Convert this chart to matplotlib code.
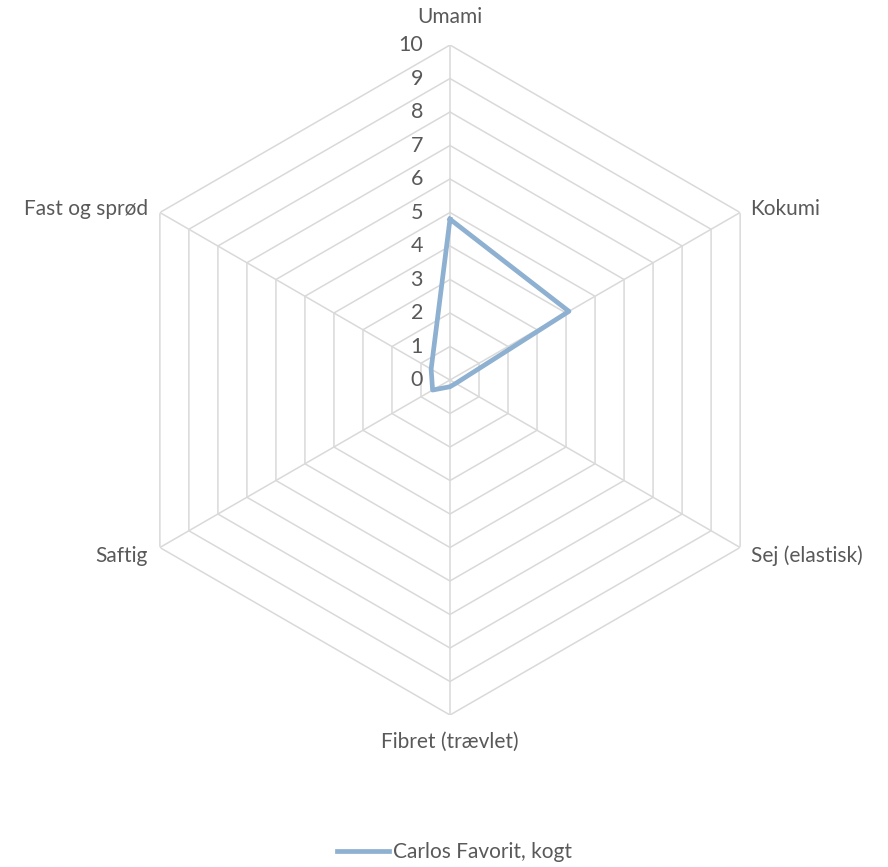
import numpy as np
import matplotlib.pyplot as plt

categories = ["Umami", "Kokumi", "Sej (elastisk)", "Fibret (trævlet)", "Saftig", "Fast og sprød"]
values = [4.8, 4.1, 0.2, 0.2, 0.6, 0.65]
ticks = list(range(0, 11))
series_name = "Carlos Favorit, kogt"

TEXT = "#595959"
GRID = "#d9d9d9"
LINE = "#8eb0d1"

plt.rcParams['font.family'] = ['Lato', 'DejaVu Sans']

fig = plt.figure(figsize=(8.88, 8.67), dpi=100)
ax = fig.add_axes([0.1295, 0.1753, 0.7545, 0.7728], projection='polar')
ax.set_theta_zero_location('N')
ax.set_theta_direction(-1)
ax.set_ylim(0, 10)
ax.axis('off')

n = len(categories)
theta = np.arange(n) * 2 * np.pi / n
theta_closed = np.append(theta, theta[0])

# hexagon rings
for r in ticks[1:]:
    ax.plot(theta_closed, [r] * (n + 1), color=GRID, lw=1.1, zorder=1)
# spokes
for t in theta:
    ax.plot([t, t], [0, 10], color=GRID, lw=1.1, zorder=1)

# radial tick labels
for r in ticks:
    ax.annotate(str(r), xy=(0, r), xytext=(-27, 0), textcoords='offset pixels',
                ha='right', va='center', fontsize=15.5, color=TEXT)

# category labels
offsets = [(0, 28, 'center', 'center'), (10, 4, 'left', 'center'),
           (11, -8, 'left', 'center'), (0, -27, 'center', 'center'),
           (-12, -8, 'right', 'center'), (-12, 4, 'right', 'center')]
for t, lab, (dx, dy, ha, va) in zip(theta, categories, offsets):
    ax.annotate(lab, xy=(t, 10), xytext=(dx, dy), textcoords='offset pixels',
                ha=ha, va=va, fontsize=15, color=TEXT)

vals_closed = values + values[:1]
line, = ax.plot(theta_closed, vals_closed, color=LINE, lw=3.4, zorder=3,
                solid_joinstyle='round', label=series_name)

leg = fig.legend(handles=[line], loc='center', bbox_to_anchor=(0.512, 1 - 852 / 867),
                 frameon=False, fontsize=15, handlelength=2.5, handletextpad=0.2)
for t in leg.get_texts():
    t.set_color(TEXT)

fig.savefig('out.png', dpi=100)
